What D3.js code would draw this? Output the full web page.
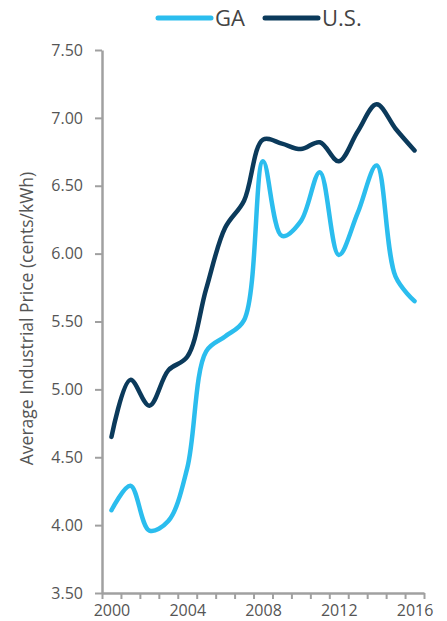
<!DOCTYPE html>
<html>
<head>
<meta charset="utf-8">
<script src="https://cdn.jsdelivr.net/npm/d3@7"></script>
<style>
  html, body { margin: 0; padding: 0; background: #fff; }
  svg { display: block; font-family: "Open Sans", "Noto Sans", sans-serif; }
</style>
</head>
<body>
<svg id="chart" width="447" height="621"></svg>
<script>
const years = [2000,2001,2002,2003,2004,2005,2006,2007,2008,2009,2010,2011,2012,2013,2014,2015,2016];
const gaValues = [4.11,4.29,3.96,4.03,4.42,5.28,5.39,5.51,6.68,6.13,6.24,6.60,5.99,6.30,6.65,5.83,5.65];
const usValues = [4.65,5.07,4.88,5.14,5.24,5.74,6.19,6.39,6.84,6.81,6.77,6.82,6.68,6.90,7.10,6.92,6.76];
const yTicks = [3.5,4.0,4.5,5.0,5.5,6.0,6.5,7.0,7.5];
const xLabelYears = [2000,2004,2008,2012,2016];
const seriesNames = ["GA","U.S."];
const seriesColors = ["#2bbdee","#0b3a5b"];

const svg = d3.select("#chart");
const mLeft = 102, mRight = 424, mTop = 50, mBottom = 593;

const x = d3.scaleLinear().domain([years[0]-0.5, years[years.length-1]+0.5]).range([mLeft, mRight]);
const y = d3.scaleLinear().domain([3.5, 7.5]).range([mBottom, mTop]);

const axisColor = "#a0a0a0";
const textColor = "#555";

// Y axis
const yAxis = svg.append("g").attr("transform", `translate(${mLeft},0)`)
  .call(d3.axisLeft(y).tickValues(yTicks).tickFormat(d3.format(".2f")).tickSize(7).tickPadding(12).tickSizeOuter(0));
yAxis.select(".domain").attr("stroke", axisColor).attr("stroke-width", 2.5);
yAxis.selectAll(".tick line").attr("stroke", axisColor).attr("stroke-width", 2);
yAxis.selectAll(".tick text").attr("fill", textColor).style("font-size", "16px").style("font-family", "Open Sans, Noto Sans, sans-serif");

// X axis ticks at band boundaries
const xTickVals = d3.range(years[0]-0.5, years[years.length-1]+1, 1);
const xAxis = svg.append("g").attr("transform", `translate(0,${mBottom})`)
  .call(d3.axisBottom(x).tickValues(xTickVals).tickFormat("").tickSize(6).tickSizeOuter(0));
xAxis.select(".domain").attr("stroke", axisColor).attr("stroke-width", 2.5);
xAxis.selectAll(".tick line").attr("stroke", axisColor).attr("stroke-width", 2);

const xLabels = svg.append("g").attr("transform", `translate(0,${mBottom})`)
  .call(d3.axisBottom(x).tickValues(xLabelYears).tickFormat(d3.format("d")).tickSize(0).tickPadding(12));
xLabels.select(".domain").remove();
xLabels.selectAll(".tick text").attr("fill", textColor).style("font-size", "16px").style("font-family", "Open Sans, Noto Sans, sans-serif");

// Y axis title
svg.append("text")
  .attr("transform", `translate(33,${(mTop+mBottom)/2 - 3}) rotate(-90)`)
  .attr("text-anchor", "middle")
  .attr("fill", textColor)
  .style("font-size", "17.5px")
  .text("Average Industrial Price (cents/kWh)");

// Lines
const line = d3.line().x((d,i) => x(years[i])).y(d => y(d)).curve(d3.curveCatmullRom.alpha(0.5));
[gaValues, usValues].forEach((vals, k) => {
  svg.append("path").datum(vals)
    .attr("d", line)
    .attr("fill", "none")
    .attr("stroke", seriesColors[k])
    .attr("stroke-width", 4.5)
    .attr("stroke-linecap", "round")
    .attr("stroke-linejoin", "round");
});

// Legend
const legendX = [158, 265];
seriesNames.forEach((name, k) => {
  const g = svg.append("g").attr("transform", `translate(${legendX[k]},18)`);
  g.append("line").attr("x1", 0).attr("x2", 53).attr("y1", 0).attr("y2", 0)
    .attr("stroke", seriesColors[k]).attr("stroke-width", 5).attr("stroke-linecap", "round");
  g.append("text").attr("x", 57).attr("y", 7.5).attr("fill", "#444")
    .style("font-size", "22px").text(name);
});
</script>
</body>
</html>
